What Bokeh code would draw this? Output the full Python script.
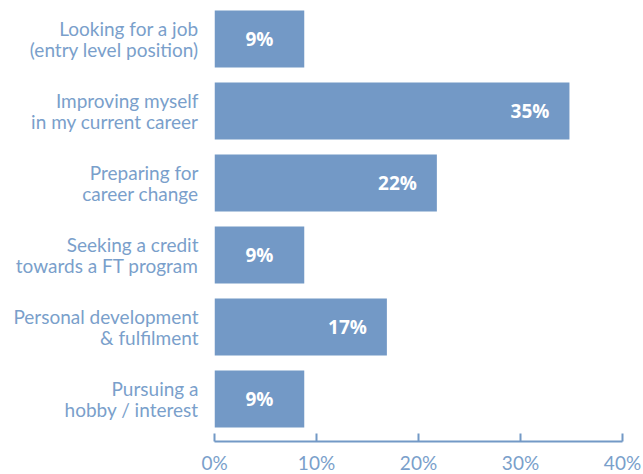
from bokeh.plotting import figure
from bokeh.models import Range1d, FixedTicker, ColumnDataSource
from bokeh.core.properties import value
from bokeh.embed import file_html
from bokeh.resources import INLINE

categories = [
    "Looking for a job\n(entry level position)",
    "Improving myself\nin my current career",
    "Preparing for\ncareer change",
    "Seeking a credit\ntowards a FT program",
    "Personal development\n& fulfilment",
    "Pursuing a\nhobby / interest",
]
values = [8.8, 34.8, 21.8, 8.8, 16.9, 8.8]
value_labels = ["9%", "35%", "22%", "9%", "17%", "9%"]
x_ticks = [0, 10, 20, 30, 40]
x_tick_labels = ["0%", "10%", "20%", "30%", "40%"]

BAR = "#7399C6"
TXT = "#7A9FCB"
FONT = "Lato"

n = len(categories)
ys = [n - 1 - i for i in range(n)]
label_x = [v / 2 if v < 10 else v for v in values]
label_align = ["center" if v < 10 else "right" for v in values]
label_off = [0 if v < 10 else -20 for v in values]

src = ColumnDataSource(dict(y=ys, v=values, lx=label_x, lab=value_labels,
                            al=label_align, off=label_off))

p = figure(frame_width=408, frame_height=441, output_backend="svg",
           toolbar_location=None,
           x_range=Range1d(0, 40), y_range=Range1d(-0.59, 5.535),
           min_border_left=214, min_border_right=21, min_border_top=0,
           min_border_bottom=30)
p.outline_line_color = None
p.grid.visible = False
p.background_fill_color = "white"

p.hbar(y="y", right="v", left=0, height=0.79, source=src, fill_color=BAR,
       line_color=None)
p.text(x="lx", y="y", text="lab", source=src, text_align="al", x_offset="off",
       text_baseline="middle", text_color="white", text_font_size="19px",
       text_font_style="bold", text_font=value("Open Sans"))

xa = p.xaxis[0]
xa.ticker = FixedTicker(ticks=x_ticks)
xa.major_label_overrides = {t: l for t, l in zip(x_ticks, x_tick_labels)}
xa.axis_line_color = BAR
xa.axis_line_width = 2
xa.major_tick_line_color = BAR
xa.major_tick_line_width = 2
xa.major_tick_in = 8
xa.major_tick_out = 0
xa.minor_tick_line_color = None
xa.major_label_text_color = TXT
xa.major_label_text_font = FONT
xa.major_label_text_font_size = "19px"
xa.major_label_standoff = 9

ya = p.yaxis[0]
ya.ticker = FixedTicker(ticks=ys)
ya.major_label_overrides = {y: c for y, c in zip(ys, categories)}
ya.axis_line_color = None
ya.major_tick_line_color = None
ya.minor_tick_line_color = None
ya.major_label_text_color = TXT
ya.major_label_text_font = FONT
ya.major_label_text_font_size = "19px"
ya.major_label_text_line_height = 0.93
ya.major_label_standoff = 10
ya.major_label_text_align = "right"

open("out.html", "w").write(file_html(p, INLINE))
